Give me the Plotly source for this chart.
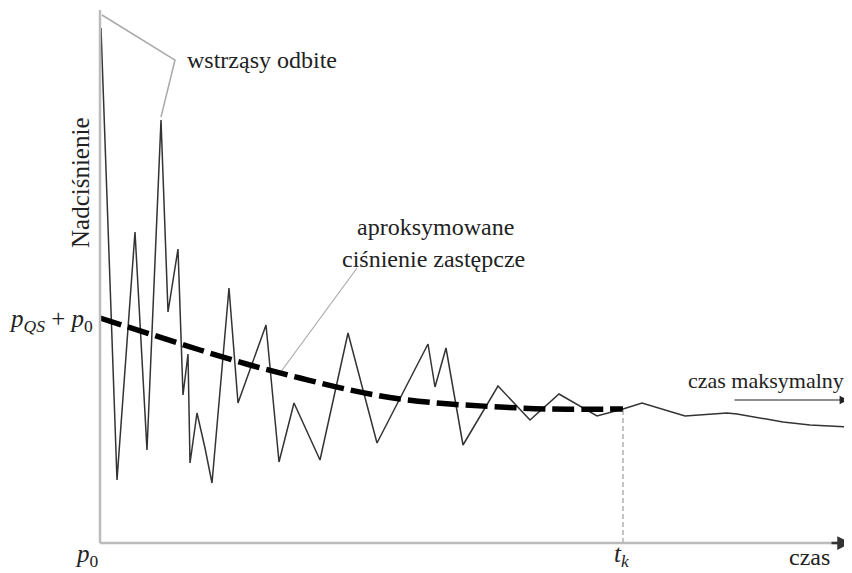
import plotly.graph_objects as go

# Pressure trace (time units, overpressure units)
trace_t = [1, 17, 35, 47, 61, 68, 78, 83, 88, 90, 97, 105, 112, 129, 138, 166, 179, 194, 220,
           248, 277, 328, 335, 346, 363, 398, 430, 459, 497, 523, 542, 585, 627, 637, 683, 710, 748]
trace_p = [515, 63, 311, 93, 423, 231, 294, 148, 189, 80, 130, 95, 60, 255, 140, 218, 81, 140, 83,
           210, 100, 199, 156, 195, 98, 157, 123, 149, 127, 134, 140, 127, 130, 129, 121, 118, 116]

# Approximated equivalent pressure
approx_t = [0, 50, 100, 150, 200, 250, 300, 350, 400, 450, 523]
approx_p = [225, 209, 193, 178, 165, 153, 144, 139, 136, 134, 134]

t_k = 523
p_k = 134

# leader lines
reflect_t = [2, 75, 61]
reflect_p = [528, 483, 426]
approx_lead_t = [180, 257]
approx_lead_p = [170, 275]

SERIF = "Liberation Serif"

fig = go.Figure()
fig.add_trace(go.Scatter(x=reflect_t, y=reflect_p, mode="lines",
                         line=dict(color="#aaaaaa", width=1.5), hoverinfo="skip"))
fig.add_trace(go.Scatter(x=approx_lead_t, y=approx_lead_p, mode="lines",
                         line=dict(color="#aaaaaa", width=1.2), hoverinfo="skip"))
fig.add_trace(go.Scatter(x=trace_t, y=trace_p, mode="lines",
                         line=dict(color="#333333", width=1.5), hoverinfo="skip"))
fig.add_trace(go.Scatter(x=approx_t, y=approx_p, mode="lines", line_shape="spline",
                         line=dict(color="#000000", width=5.5, dash="22px,7px"), hoverinfo="skip"))
fig.add_trace(go.Scatter(x=[t_k, t_k], y=[0, p_k], mode="lines",
                         line=dict(color="#888888", width=1, dash="5px,3px"), hoverinfo="skip"))

# axes
fig.add_shape(type="line", x0=0, y0=0, x1=0, y1=533, line=dict(color="#bbbbbb", width=2.5))
fig.add_shape(type="line", x0=0, y0=0, x1=738, y1=0, line=dict(color="#bbbbbb", width=2.5))
fig.add_annotation(x=751, y=0, ax=730, ay=0, axref="x", ayref="y", showarrow=True,
                   arrowhead=2, arrowsize=1.1, arrowwidth=2.5, arrowcolor="#333333", text="")
fig.add_annotation(x=748, y=143, ax=633, ay=143, axref="x", ayref="y", showarrow=True,
                   arrowhead=2, arrowsize=1.4, arrowwidth=1.2, arrowcolor="#222222", text="")

font = dict(family=SERIF, color="#222222", size=24)
fig.add_annotation(x=-20, y=360, text="Nadciśnienie", textangle=-90, showarrow=False,
                   font=dict(family=SERIF, color="#222222", size=25))
fig.add_annotation(x=85, y=483, text="wstrząsy odbite", xanchor="left", showarrow=False, font=font)
fig.add_annotation(x=335, y=316, text="aproksymowane", showarrow=False, font=font)
fig.add_annotation(x=333, y=284, text="ciśnienie zastępcze", showarrow=False, font=font)
fig.add_annotation(x=-5, y=223, text="<i>p</i><sub><i>QS</i></sub> + <i>p</i><sub>0</sub>",
                   xanchor="right", showarrow=False,
                   font=dict(family=SERIF, color="#222222", size=25))
fig.add_annotation(x=-13, y=-12, text="<i>p</i><sub>0</sub>", showarrow=False,
                   font=dict(family=SERIF, color="#222222", size=25))
fig.add_annotation(x=522, y=-12, text="<i>t</i><sub><i>k</i></sub>", showarrow=False,
                   font=dict(family=SERIF, color="#222222", size=25))
fig.add_annotation(x=709, y=-14, text="czas", showarrow=False, font=font)
fig.add_annotation(x=746, y=163, text="czas maksymalny", xanchor="right", showarrow=False,
                   font=dict(family=SERIF, color="#222222", size=22))

fig.update_layout(
    width=844, height=565,
    margin=dict(l=0, r=0, t=0, b=0),
    paper_bgcolor="white", plot_bgcolor="white",
    showlegend=False,
    xaxis=dict(range=[-92, 752], visible=False, fixedrange=True),
    yaxis=dict(range=[-30, 535], visible=False, fixedrange=True),
)
fig.write_html("out.html")
